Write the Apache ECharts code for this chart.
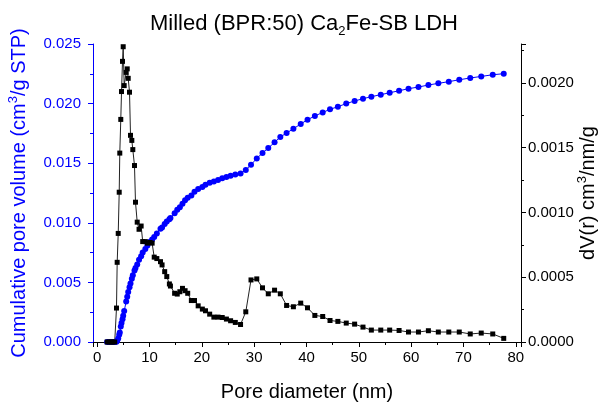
<!DOCTYPE html>
<html>
<head>
<meta charset="utf-8">
<script src="https://cdn.jsdelivr.net/npm/echarts@6/dist/echarts.min.js"></script>
<style>
  html, body { margin: 0; padding: 0; background: #fff; }
  #chart { width: 608px; height: 407px; }
</style>
</head>
<body>
<div id="chart"></div>
<script>
// pore diameter (nm), shared by both curves
var poreDiameter = [1.9, 2.3, 2.7, 3.0, 3.35, 3.69, 3.82, 4.02, 4.21, 4.32,
  4.51, 4.65, 4.84, 4.97, 5.16, 5.54, 5.74, 5.93, 6.18, 6.37,
  6.62, 6.81, 7.13, 7.32, 7.65, 8.0, 8.4, 8.7, 9.2, 9.6,
  10.1, 10.5, 10.9, 11.4, 12.1, 12.4, 12.9, 13.3, 13.8, 14.0,
  14.8, 15.3, 15.8, 16.3, 16.8, 17.3, 18.0, 18.6, 19.3, 20.1,
  20.7, 21.5, 22.3, 23.1, 23.9, 24.7, 25.5, 26.4, 27.4, 28.4,
  29.4, 30.5, 31.6, 32.7, 33.9, 35.0, 36.2, 37.5, 38.9, 40.2,
  41.6, 43.1, 44.5, 46.0, 47.6, 49.2, 50.8, 52.4, 54.2, 55.9,
  57.7, 59.5, 61.4, 63.3, 65.2, 67.2, 69.2, 71.3, 73.4, 75.6, 77.7]

// cumulative pore volume (cm3/g STP), left axis
var cumVolume = [0, 0, 0, 0, 0, 0.00003, 0.0001, 0.0003, 0.0006, 0.0008,
  0.0013, 0.0016, 0.0019, 0.0022, 0.0026, 0.0034, 0.0038, 0.0042, 0.0046, 0.0049,
  0.0053, 0.0056, 0.0060, 0.0062, 0.0065, 0.0069, 0.0072, 0.0075, 0.0078, 0.0081,
  0.0084, 0.0086, 0.0088, 0.0091, 0.0095, 0.0096, 0.0099, 0.0101, 0.0103, 0.0104,
  0.0108, 0.0111, 0.0113, 0.0116, 0.0119, 0.0121, 0.0123, 0.0126, 0.01283, 0.0130,
  0.0132, 0.01337, 0.01347, 0.01359, 0.01373, 0.01384, 0.01395, 0.01406, 0.01414, 0.01443,
  0.01487, 0.0154, 0.01586, 0.01627, 0.01675, 0.0172, 0.01753, 0.01789, 0.01829, 0.01865,
  0.01896, 0.01926, 0.01952, 0.01974, 0.0200, 0.02022, 0.02041, 0.02058, 0.02075, 0.02091,
  0.02108, 0.02125, 0.02139, 0.02156, 0.0217, 0.02184, 0.0220, 0.02215, 0.02228, 0.02242, 0.02251]

// dV(r) (cm3/nm/g), right axis
var dVr = [0, 0, 0, 0, 0, 0.000262, 0.000615, 0.000838, 0.001156, 0.001458,
  0.001718, 0.001933, 0.002166, 0.002279, 0.001979, 0.002081, 0.002108, 0.002035, 0.001928, 0.001595,
  0.001556, 0.001485, 0.001362, 0.001079, 0.000925, 0.00087, 0.000895, 0.000775, 0.000775, 0.000763,
  0.000768, 0.000763, 0.000655, 0.000644, 0.00062, 0.000595, 0.000543, 0.000505, 0.000448, 0.000432,
  0.000376, 0.00037, 0.000388, 0.000414, 0.000396, 0.000376, 0.00032, 0.00032, 0.000279, 0.000254,
  0.000241, 0.000215, 0.000192, 0.000192, 0.000189, 0.000177, 0.000164, 0.000151, 0.000135, 0.000233,
  0.000479, 0.000487, 0.000418, 0.000372, 0.0004, 0.000372, 0.000282, 0.000272, 0.0003, 0.000264,
  0.000205, 0.000197, 0.000166, 0.000159, 0.000146, 0.000138, 0.000115, 0.000092, 0.000092, 0.000092,
  0.000089, 0.000077, 0.000077, 0.000087, 0.000077, 0.000077, 0.000077, 0.000062, 0.000069, 0.000062, 0.000028]

var font = 'Liberation Sans, Arial, sans-serif'
var blue = '#0000ff'

function pairs (ys) {
  return poreDiameter.map(function (x, i) { return [x, ys[i]] })
}

var myChart = echarts.init(document.getElementById('chart'))
myChart.setOption({
  animation: false,
  textStyle: { fontFamily: font },
  title: {
    left: 'center',
    top: 5,
    text: '{t|Milled (BPR:50) Ca}{s|2}{t|Fe-SB LDH}',
    textStyle: {
      fontWeight: 'normal',
      rich: {
        t: { fontSize: 22, lineHeight: 28, fontWeight: 'normal', color: '#000', fontFamily: font },
        s: { fontSize: 13, lineHeight: 28, fontWeight: 'normal', verticalAlign: 'bottom', color: '#000', fontFamily: font }
      }
    }
  },
  grid: { left: 93, right: 87, top: 44, bottom: 65, outerBoundsMode: 'none', containLabel: false },
  xAxis: {
    type: 'value',
    min: -0.8,
    max: 81,
    splitNumber: 8,
    name: 'Pore diameter (nm)',
    nameLocation: 'middle',
    nameGap: 40,
    nameMoveOverlap: false,
    nameTextStyle: { fontSize: 20, color: '#000' },
    axisLine: { onZero: false, lineStyle: { color: '#000', width: 1 } },
    axisTick: { inside: false, length: 5, lineStyle: { color: '#000' } },
    minorTick: { show: true, splitNumber: 2, length: 3, lineStyle: { color: '#000' } },
    axisLabel: { fontSize: 15, color: '#000', margin: 8, showMinLabel: false, showMaxLabel: false },
    splitLine: { show: false }
  },
  yAxis: [
    {
      type: 'value',
      position: 'left',
      min: 0,
      max: 0.025,
      interval: 0.005,
      name: '{a|Cumulative pore volume (cm}{s|3}{a|/g STP)}',
      nameLocation: 'middle',
      nameGap: 62,
      nameMoveOverlap: false,
      nameTextStyle: {
        rich: {
          a: { fontSize: 20, lineHeight: 24, color: blue, fontFamily: font },
          s: { fontSize: 13, lineHeight: 24, verticalAlign: 'top', color: blue, fontFamily: font }
        }
      },
      axisLine: { show: true, onZero: false, lineStyle: { color: blue, width: 1 } },
      axisTick: { inside: false, length: 5, lineStyle: { color: blue } },
      minorTick: { show: true, splitNumber: 2, length: 3, lineStyle: { color: blue } },
      axisLabel: {
        fontSize: 15,
        color: blue,
        margin: 12,
        formatter: function (v) { return v.toFixed(3) }
      },
      splitLine: { show: false }
    },
    {
      type: 'value',
      position: 'right',
      min: 0,
      max: 0.0023,
      interval: 0.0005,
      name: '{a|dV(r) cm}{s|3}{a|/nm/g}',
      nameLocation: 'middle',
      nameGap: 55,
      nameMoveOverlap: false,
      nameTextStyle: {
        rich: {
          a: { fontSize: 20, lineHeight: 24, color: '#000', fontFamily: font },
          s: { fontSize: 13, lineHeight: 24, verticalAlign: 'top', color: '#000', fontFamily: font }
        }
      },
      axisLine: { show: true, onZero: false, lineStyle: { color: '#000', width: 1 } },
      axisTick: { inside: false, length: 5, lineStyle: { color: '#000' } },
      minorTick: { show: true, splitNumber: 2, length: 3, lineStyle: { color: '#000' } },
      axisLabel: {
        fontSize: 15,
        color: '#000',
        margin: 7,
        showMaxLabel: false,
        formatter: function (v) { return v.toFixed(4) }
      },
      splitLine: { show: false }
    }
  ],
  series: [
    {
      name: 'Cumulative pore volume',
      type: 'line',
      yAxisIndex: 0,
      data: pairs(cumVolume),
      symbol: 'circle',
      symbolSize: 6,
      itemStyle: { color: blue },
      lineStyle: { color: blue, width: 1 }
    },
    {
      name: 'dV(r)',
      type: 'line',
      yAxisIndex: 1,
      data: pairs(dVr),
      symbol: 'rect',
      symbolSize: 5,
      itemStyle: { color: '#000' },
      lineStyle: { color: '#222', width: 1 }
    }
  ]
})
</script>
</body>
</html>
